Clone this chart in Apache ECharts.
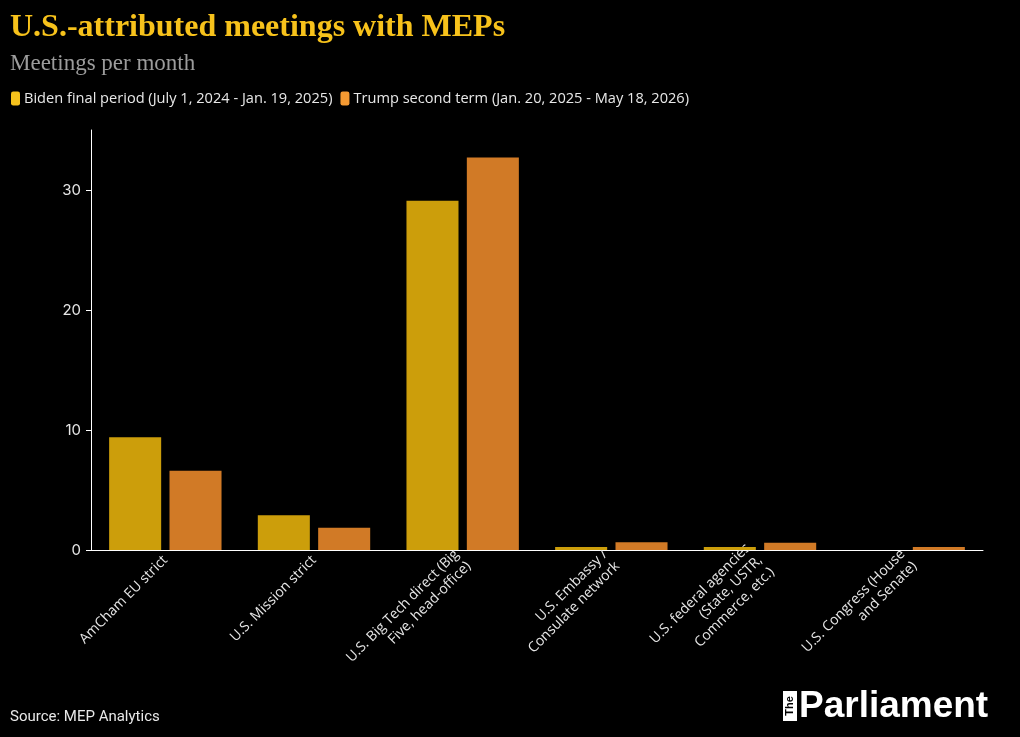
<!DOCTYPE html>
<html>
<head>
<meta charset="utf-8">
<script src="https://cdn.jsdelivr.net/npm/echarts@6/dist/echarts.min.js"></script>
<style>
  html, body { margin: 0; padding: 0; background: #000; }
  #chart { width: 1020px; height: 737px; }
</style>
</head>
<body>
<div id="chart"></div>
<script>
// categories and wrapped tick labels
var categories = ['AmCham EU strict', 'U.S. Mission strict', 'U.S. Big Tech direct (Big Five, head-office)',
    'U.S. Embassy / Consulate network', 'U.S. federal agencies (State, USTR, Commerce, etc.)', 'U.S. Congress (House and Senate)'];
var tickLabels = ['AmCham EU strict', 'U.S. Mission strict', 'U.S. Big Tech direct (Big\nFive, head-office)',
    'U.S. Embassy /\nConsulate network', 'U.S. federal agencies\n(State, USTR,\nCommerce, etc.)', 'U.S. Congress (House\nand Senate)'];

var seriesNames = ['Biden final period (July 1, 2024 - Jan. 19, 2025)', 'Trump second term (Jan. 20, 2025 - May 18, 2026)'];
var bidenValues = [9.4, 2.9, 29.1, 0.25, 0.25, 0];
var trumpValues = [6.6, 1.85, 32.7, 0.65, 0.6, 0.25];
var yTicks = [0, 10, 20, 30];

var chart = echarts.init(document.getElementById('chart'));

var option = {
    backgroundColor: '#000000',
    animation: false,
    title: [{
        text: 'U.S.-attributed meetings with MEPs',
        left: 10,
        top: 12,
        padding: 0,
        textStyle: {color: '#f7c21b', fontFamily: 'Liberation Serif', fontWeight: 'bold', fontSize: 32}
    }, {
        text: 'Meetings per month',
        left: 10,
        top: 52,
        padding: 0,
        textStyle: {color: '#9c9c9c', fontFamily: 'Liberation Serif', fontWeight: 'normal', fontSize: 23}
    }],
    legend: {
        left: 11,
        top: 91,
        padding: 0,
        itemWidth: 9,
        itemHeight: 14,
        itemGap: 8,
        icon: 'roundRect',
        textStyle: {color: '#e8e8e8', fontFamily: 'Open Sans', fontSize: 14.6, padding: [0, 0, 0, -1]},
        data: [
            {name: seriesNames[0], itemStyle: {color: '#f6c21c'}},
            {name: seriesNames[1], itemStyle: {color: '#f59a32'}}
        ]
    },
    grid: {left: 91, right: 37, top: 130, bottom: 187},
    xAxis: {
        type: 'category',
        data: categories,
        axisLine: {lineStyle: {color: '#ffffff', width: 1}},
        axisTick: {alignWithLabel: true, length: 5, lineStyle: {color: '#9a9a9a'}},
        axisLabel: {
            rotate: 45,
            color: '#e6e6e6',
            fontFamily: 'Open Sans',
            fontSize: 14,
            lineHeight: 17,
            interval: 0,
            margin: 8,
            formatter: function (v, i) { return tickLabels[i]; }
        }
    },
    yAxis: {
        type: 'value',
        min: 0,
        max: 35,
        interval: 10,
        axisLine: {show: true, lineStyle: {color: '#ffffff', width: 1}},
        axisTick: {show: true, length: 5, lineStyle: {color: '#ffffff'}},
        splitLine: {show: false},
        axisLabel: {
            color: '#e6e6e6',
            fontFamily: 'Inter',
            fontSize: 15,
            margin: 10,
            showMaxLabel: false,
            formatter: function (v) { return yTicks.indexOf(v) >= 0 ? String(v) : ''; }
        }
    },
    series: [{
        name: seriesNames[0],
        type: 'bar',
        data: bidenValues,
        barWidth: '35%',
        barGap: '16%',
        itemStyle: {color: '#cc9e0b'}
    }, {
        name: seriesNames[1],
        type: 'bar',
        data: trumpValues,
        barWidth: '35%',
        itemStyle: {color: '#d17a26'}
    }],
    graphic: [{
        type: 'text',
        left: 10,
        top: 710,
        style: {text: 'Source: MEP Analytics', fill: '#e8e8e8', font: '15px Roboto'}
    }, {
        type: 'rect',
        shape: {x: 783, y: 691, width: 14, height: 30},
        style: {fill: '#ffffff'}
    }, {
        type: 'text',
        x: 790,
        y: 706,
        rotation: Math.PI / 2,
        style: {text: 'The', fill: '#000000', font: 'bold 11px "Liberation Sans"', align: 'center', verticalAlign: 'middle'}
    }, {
        type: 'text',
        x: 799,
        y: 688,
        style: {text: 'Parliament', fill: '#ffffff', font: 'bold 37px "Liberation Sans"'}
    }]
};

chart.setOption(option);
window.addEventListener('resize', function () {
    chart.resize();
});
</script>
</body>
</html>
